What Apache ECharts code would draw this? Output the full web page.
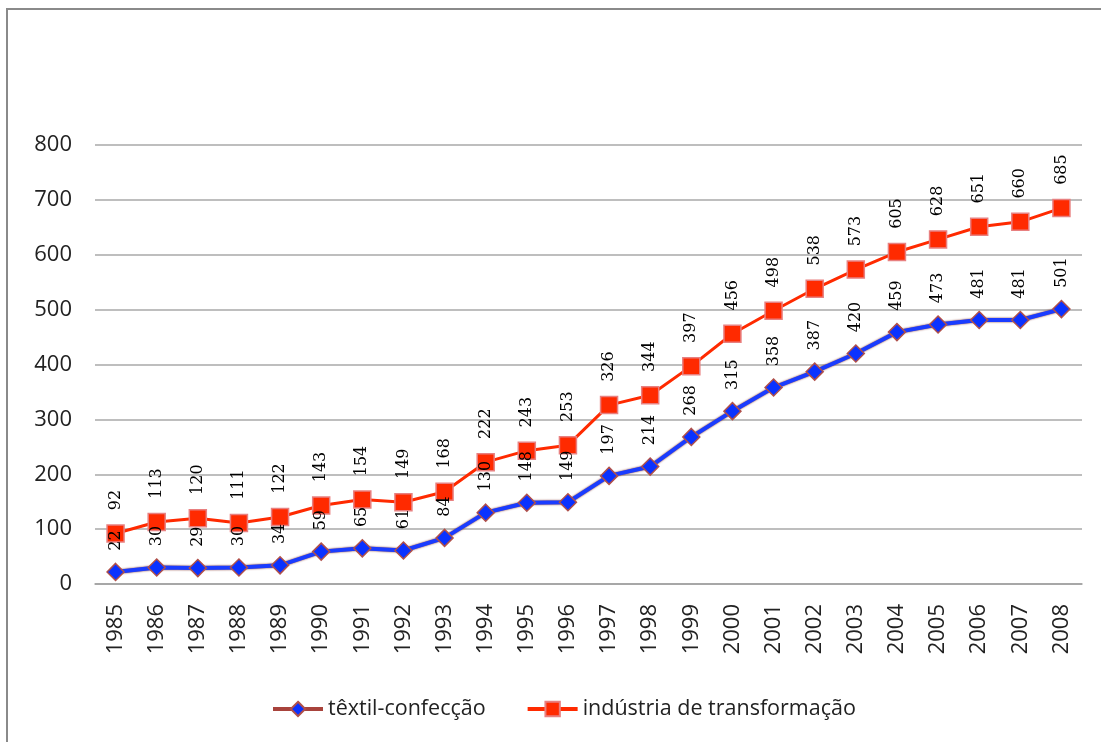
<!DOCTYPE html>
<html><head><meta charset="utf-8">
<script src="https://cdn.jsdelivr.net/npm/echarts@6/dist/echarts.min.js"></script>
<style>html,body{margin:0;padding:0;background:#fff}#c{width:1101px;height:742px}</style>
</head><body><div id="c"></div>
<script>
const years = ['1985','1986','1987','1988','1989','1990','1991','1992','1993','1994','1995','1996','1997','1998','1999','2000','2001','2002','2003','2004','2005','2006','2007','2008'];
const textil = [22,30,29,30,34,59,65,61,84,130,148,149,197,214,268,315,358,387,420,459,473,481,481,501];
const industria = [92,113,120,111,122,143,154,149,168,222,243,253,326,344,397,456,498,538,573,605,628,651,660,685];
const yTicks = [0,100,200,300,400,500,600,700,800];

const chart = echarts.init(document.getElementById('c'), null, {renderer:'canvas'});
const labelStyle = {show:true, position:'top', rotate:90, distance:12, align:'left', verticalAlign:'middle',
  fontFamily:'DejaVu Serif', fontSize:16, color:'#000'};
chart.setOption({
  animation:false,
  graphic:[{type:'polyline', shape:{points:[[7,742],[7,9],[1101,9]]}, style:{stroke:'#8a8a8a', lineWidth:2, fill:null}}],
  grid:{left:95, right:19, top:145, bottom:158},
  legend:{top:693, left:266, itemWidth:50, itemHeight:18, itemGap:40,
    textStyle:{fontFamily:'Open Sans', fontSize:21.5, color:'#222'},
    data:[{name:'têxtil-confecção', lineStyle:{color:'#a8433c', width:4}},
          {name:'indústria de transformação', lineStyle:{width:4}}]},
  xAxis:{type:'category', data:years, boundaryGap:true,
    axisLine:{show:true, lineStyle:{color:'#a0a0a0', width:1.5}}, axisTick:{show:false},
    axisLabel:{rotate:90, margin:20, fontFamily:'Open Sans', fontSize:22, color:'#222'}},
  yAxis:{type:'value', min:yTicks[0], max:yTicks[yTicks.length-1], interval:100,
    axisLine:{show:false}, axisTick:{show:false},
    splitLine:{lineStyle:{color:'#a8a8a8', width:1.5}},
    axisLabel:{margin:23, fontFamily:'Open Sans', fontSize:22, color:'#222'}},
  series:[
    {name:'indústria de transformação', type:'line', data:industria, symbol:'rect', symbolSize:17,
      lineStyle:{color:'#ff2a00', width:3},
      itemStyle:{color:'#ff2a00', borderColor:'#e88080', borderWidth:1.5},
      label:Object.assign({}, labelStyle, {distance:14}), z:2},
    {name:'têxtil-confecção', type:'line', data:textil, symbol:'diamond', symbolSize:17,
      lineStyle:{color:'#1a3cff', width:4, shadowColor:'#7a2a22', shadowBlur:2},
      itemStyle:{color:'#0a32ff', borderColor:'#b0504a', borderWidth:1.5},
      label:labelStyle, z:3}
  ]
});
</script></body></html>
